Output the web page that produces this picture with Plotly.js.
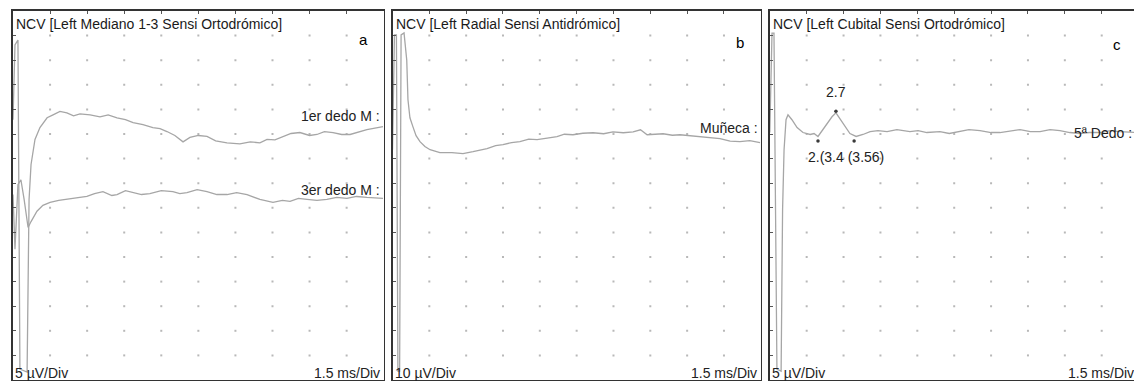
<!DOCTYPE html>
<html><head><meta charset="utf-8">
<script src="https://cdn.plot.ly/plotly-3.0.1.min.js"></script>
<style>html,body{margin:0;padding:0;overflow:hidden;background:#fff}#chart{width:1140px;height:381px}</style>
</head><body><div id="chart"></div><script>
// ---------- Panel a : Left Mediano 1-3 (5 uV/Div, 1.5 ms/Div) ----------
const medTime1 = [0,0.08,0.2,0.28,0.57,0.65,0.73,0.89,1.09,1.38,1.62,1.9,2.18,2.45,2.71,3.12,3.52,3.85,4.21,4.55,4.86,5.26,5.66,5.95,6.23,6.55,6.88,7.16,7.5,7.85,8.2,8.66,9.18,9.6,9.99,10.28,10.6,10.92,11.25,11.61,12.0,12.3,12.6,12.95,13.3,13.64,14.0,14.32,14.97];
const med1erDedo = [52.9,68.1,69.1,2.2,1.6,36.7,43.8,48.9,51.3,53.3,53.9,54.6,54.3,53.7,54.1,53.9,53.5,53.9,53.3,52.9,52.3,51.9,51.3,51.1,50.5,49.7,48.4,49.3,49.7,49.5,48.6,48.2,48.0,48.4,48.2,48.9,48.8,49.5,50.1,50.3,49.7,49.9,50.5,50.3,49.9,49.9,50.5,50.9,51.5];
const medTime3 = [0,0.08,0.2,0.32,0.45,0.61,0.73,0.97,1.21,1.5,1.85,2.18,2.6,2.99,3.3,3.64,4.0,4.21,4.55,4.86,5.2,5.54,6.0,6.47,6.75,7.04,7.45,7.85,8.25,8.66,9.05,9.47,9.99,10.52,10.9,11.21,11.55,11.9,12.3,12.7,13.1,13.51,13.9,14.32,14.97];
const med3erDedo = [37.7,26.6,39.7,40.7,36.7,31.0,32.2,34.3,35.5,36.1,36.5,36.7,37.1,37.3,37.9,38.3,37.5,37.7,38.5,38.1,37.7,37.9,38.5,38.3,37.9,38.1,38.7,38.3,37.7,37.7,38.1,37.7,36.7,36.1,36.5,36.3,36.9,36.7,36.5,36.7,37.1,36.9,37.3,37.1,36.9];
// ---------- Panel b : Left Radial (10 uV/Div, 1.5 ms/Div) ----------
const radTime = [0,0.08,0.16,0.22,0.29,0.35,0.47,0.58,0.63,0.71,0.83,0.96,1.12,1.32,1.53,1.93,2.42,2.87,3.28,3.55,3.85,4.2,4.5,4.85,5.19,5.55,5.89,6.3,6.7,7.0,7.35,7.75,8.17,8.6,8.98,9.4,9.8,10.1,10.37,11.02,11.4,11.71,12.1,12.53,12.9,13.34,13.75,14.15,14.55,14.97];
const radMuneca = [93.6,140.3,140.3,3.6,3.6,140.3,141.1,130.1,113.9,106.6,103.0,99.3,96.9,94.9,93.6,92.4,92.4,92.0,92.8,93.3,94.1,95.3,95.7,96.5,96.9,97.9,97.7,98.3,98.9,99.9,99.7,100.3,100.5,100.1,100.9,100.5,100.9,101.7,99.7,100.1,99.5,99.7,99.3,98.9,98.5,98.1,97.1,96.9,97.3,96.5];
// ---------- Panel c : Left Cubital (5 uV/Div, 1.5 ms/Div) ----------
const cubTime = [0,0.09,0.17,0.29,0.46,0.52,0.58,0.66,0.74,0.9,1.11,1.35,1.64,1.8,1.96,2.12,2.33,2.53,2.69,2.86,3.06,3.26,3.51,3.79,4.08,4.4,4.77,5.17,5.7,6.03,6.39,6.92,7.3,7.74,8.1,8.55,9.0,9.36,9.8,10.18,10.6,10.99,11.4,11.8,12.2,12.62,13.0,13.43,13.85,14.24,14.97];
const cub5Dedo = [50.3,70.5,70.5,2.2,1.8,34.7,46.8,52.9,53.9,52.9,51.3,50.3,49.9,50.1,49.5,50.7,52.1,53.5,54.3,53.1,51.5,50.1,49.5,49.9,50.5,50.7,50.5,50.9,50.5,50.7,50.3,50.5,50.1,50.5,50.9,50.7,50.3,50.3,50.7,50.9,50.5,50.5,50.9,50.7,50.3,50.1,50.3,50.3,50.7,50.5,50.3];
// cursor markers (ms, uV) and their labels
const cubMarkTime = [1.96, 2.69, 3.43];
const cubMarkVal  = [48.6, 54.6, 48.6];
const cubPeakLabel = '2.7';
const cubLowLabel = '2.(3.4 (3.56)';

const uvPerDiv = [5, 10, 5];
const traceColor = '#a6a6a6';
const textColor = '#222';
const font = 'Liberation Sans, Arial, sans-serif';

const traces = [];
// grid dots at each division intersection
uvPerDiv.forEach((d, p) => {
  const gx = [], gy = [];
  for (let i = 1; i < 10; i++) for (let j = 1; j < 15; j++) { gx.push(i * 1.5); gy.push(j * d); }
  traces.push({x: gx, y: gy, xaxis: 'x' + (p ? p + 1 : ''), yaxis: 'y' + (p ? p + 1 : ''),
    mode: 'markers', marker: {size: 2, color: '#b8b8b8', symbol: 'square'}, hoverinfo: 'skip', showlegend: false});
});
const line = {color: traceColor, width: 1.3};
traces.push({x: medTime1, y: med1erDedo, xaxis: 'x', yaxis: 'y', mode: 'lines', line, name: '1er dedo M'});
traces.push({x: medTime3, y: med3erDedo, xaxis: 'x', yaxis: 'y', mode: 'lines', line, name: '3er dedo M'});
traces.push({x: radTime, y: radMuneca, xaxis: 'x2', yaxis: 'y2', mode: 'lines', line, name: 'Muñeca'});
traces.push({x: cubTime, y: cub5Dedo, xaxis: 'x3', yaxis: 'y3', mode: 'lines', line, name: '5ª Dedo'});
traces.push({x: cubMarkTime, y: cubMarkVal, xaxis: 'x3', yaxis: 'y3', mode: 'markers',
  marker: {size: 3.5, color: '#3a3a3a'}, hoverinfo: 'skip'});

const W = 1140, H = 381;
const dom = [[13, 383.7], [392.5, 760.8], [769.8, 1138.6]];
const yDom = [1 / H, 1 - 11 / H];
const layout = {width: W, height: H, margin: {l: 0, r: 0, t: 0, b: 0}, showlegend: false,
  paper_bgcolor: '#fff', plot_bgcolor: '#fff', font: {family: font, color: textColor}, annotations: []};
const axCommon = {showgrid: false, zeroline: false, showline: true, linecolor: '#333', linewidth: 1.6,
  mirror: true, ticks: 'inside', ticklen: 3, tickwidth: 1, tickcolor: '#555', showticklabels: false, fixedrange: true};
dom.forEach((d, p) => {
  const s = p ? p + 1 : '';
  layout['xaxis' + s] = Object.assign({}, axCommon, {domain: [d[0] / W, d[1] / W], range: [0, 15], dtick: 1.5, tick0: 0,
    side: 'top', anchor: 'y' + s});
  layout['yaxis' + s] = Object.assign({}, axCommon, {domain: yDom, range: [0, 15 * uvPerDiv[p]], dtick: uvPerDiv[p], tick0: 0,
    anchor: 'x' + s});
});
const titles = ['NCV [Left Mediano 1-3 Sensi Ortodrómico]', 'NCV [Left Radial Sensi Antidrómico]', 'NCV [Left Cubital Sensi Ortodrómico]'];
const letters = ['a', 'b', 'c'];
const scaleTxt = ['5 µV/Div', '10 µV/Div', '5 µV/Div'];
const plotH = (1 - 11 / H - 1 / H) * H;
const yd = py => (380 - py) / plotH;
function ann(p, o) {
  const s = p ? p + 1 : '';
  layout.annotations.push(Object.assign({xref: 'x' + s + ' domain', yref: 'y' + s + ' domain', showarrow: false,
    font: {size: 14, family: font, color: textColor}}, o));
}
const xdOf = (p, px) => (px - dom[p][0]) / (dom[p][1] - dom[p][0]);
titles.forEach((t, p) => {
  ann(p, {text: t, x: xdOf(p, dom[p][0] + 1), y: yd(24), xanchor: 'left', yanchor: 'middle', font: {size: 14, family: font, color: '#1a1a1a'}});
  ann(p, {text: letters[p], x: xdOf(p, [363, 740, 1117][p]), y: yd([40, 42, 44][p]), xanchor: 'center', yanchor: 'middle', font: {size: 15, family: font, color: '#000'}});
  ann(p, {text: scaleTxt[p], x: xdOf(p, dom[p][0]), y: yd(373), xanchor: 'left', yanchor: 'middle'});
  ann(p, {text: '1.5 ms/Div', x: xdOf(p, Math.min(dom[p][1] - 1.5, 1136)), y: yd(373), xanchor: 'right', yanchor: 'middle'});
});
ann(0, {text: '1er dedo M :', x: xdOf(0, 381.5), y: yd(116), xanchor: 'right', yanchor: 'middle'});
ann(0, {text: '3er dedo M :', x: xdOf(0, 381.5), y: yd(190), xanchor: 'right', yanchor: 'middle'});
ann(1, {text: 'Muñeca :', x: xdOf(1, 759.5), y: yd(128), xanchor: 'right', yanchor: 'middle'});
ann(2, {text: '5ª Dedo :', x: xdOf(2, 1134), y: yd(133), xanchor: 'right', yanchor: 'middle'});
// cursor labels (data coordinates)
layout.annotations.push({xref: 'x3', yref: 'y3', x: cubMarkTime[1], y: cubMarkVal[1] + 3.9, text: cubPeakLabel, showarrow: false,
  xanchor: 'center', yanchor: 'middle', font: {size: 14, family: font, color: textColor}});
layout.annotations.push({xref: 'x3', yref: 'y3', x: cubMarkTime[0] - 0.47, y: 45.3, text: cubLowLabel, showarrow: false,
  xanchor: 'left', yanchor: 'middle', font: {size: 14, family: font, color: textColor}});

Plotly.newPlot('chart', traces, layout, {staticPlot: true, displayModeBar: false});
</script></body></html>
